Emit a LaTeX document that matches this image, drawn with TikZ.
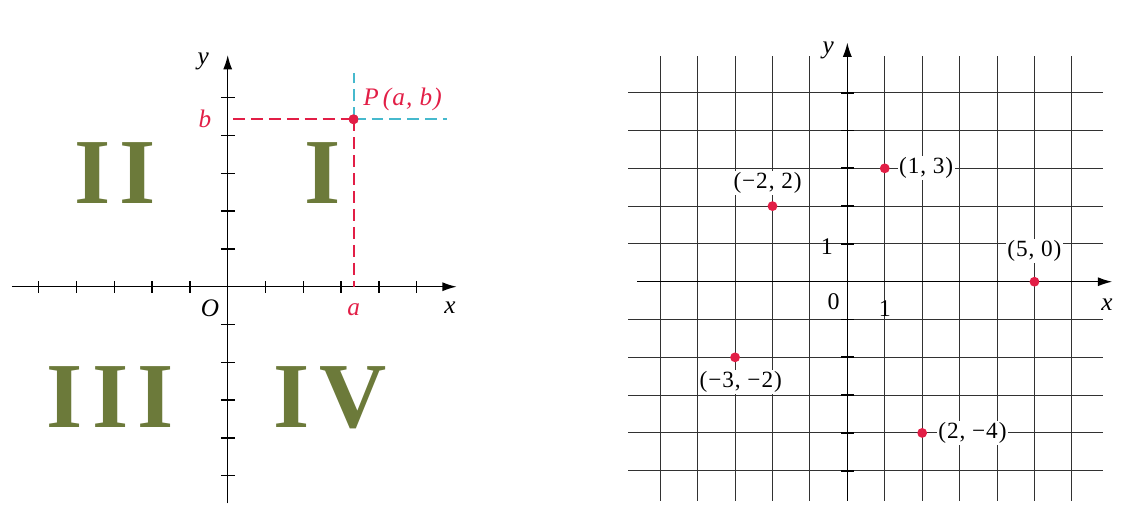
\documentclass[tikz,border=0pt]{standalone}
\usepackage{fontspec}
\setmainfont{Liberation Serif}
\newfontfamily\labelfont[LetterSpace=4]{Liberation Serif}
\newfontfamily\quadfont[LetterSpace=10]{Liberation Serif}
\usetikzlibrary{arrows.meta,positioning}
\definecolor{quadgreen}{RGB}{108,122,58}
\definecolor{ptred}{RGB}{226,30,70}
\definecolor{dashcyan}{RGB}{70,185,205}
\definecolor{gridgray}{RGB}{50,50,50}
\tikzset{
  axisline/.style={line width=1.1pt, draw=black, -{Latex[length=3.8mm,width=2.4mm]}},
  gridline/.style={line width=0.75pt, draw=gridgray},
  tickmark/.style={line width=1pt, draw=black},
  ptdot/.style={circle, fill=ptred, inner sep=0pt, minimum size=2.6mm},
  quadnum/.style={text=quadgreen, inner sep=0pt, font=\quadfont\bfseries\fontsize{70}{70}\selectfont},
  axislabel/.style={inner sep=1pt, font=\labelfont\itshape\fontsize{19}{19}\selectfont},
  numlabel/.style={inner sep=1pt, font=\labelfont\fontsize{18}{18}\selectfont},
  ptlabel/.style={fill=white, inner sep=1pt, font=\labelfont\fontsize{17.5}{17.5}\selectfont},
  reddash/.style={draw=ptred, line width=1.5pt, dash pattern=on 9pt off 4.5pt},
  cyandash/.style={draw=dashcyan, line width=1.5pt, dash pattern=on 9pt off 4.5pt},
}
\begin{document}
\begin{tikzpicture}
  \useasboundingbox (-6.024,-5.854) rectangle (23.870,7.585);
  % quadrants
  \coordinate (O) at (0,0);
  \coordinate (lxa) at (-5.71,0);
  \coordinate (lxb) at (6.06,0);
  \coordinate (lya) at (0,-5.73);
  \coordinate (lyb) at (0,6.13);
  \node[quadnum] (q2) at (-2.98,3.02) {II};
  \node[quadnum] (q1) at (2.51,3.02) {I};
  \node[quadnum] (q3) at (-3.11,-2.93) {III};
  \node[quadnum] (q4) at (2.71,-2.93) {IV};
  \draw[axisline] (lxa) -- (lxb);
  \draw[axisline] (lya) -- (lyb);
  \foreach \i in {-5,...,-1,1,2,...,5} {
    \draw[tickmark] (\i,-0.16) -- (\i,0.16);
    \draw[tickmark] (-0.18,\i) -- (0.18,\i);
  }
  \node[ptdot] (P) at (3.33,4.43) {};
  \coordinate (Pa) at (3.33,0);
  \coordinate (Pb) at (0.14,4.43);
  \coordinate (Pup) at (3.33,5.65);
  \coordinate (Pright) at (5.79,4.43);
  \draw[cyandash] (P.center) -- (Pup);
  \draw[cyandash] (P.center) -- (Pright);
  \draw[reddash] (Pb) -- (P.center);
  \draw[reddash] (P.center) -- (Pa);
  \fill[ptred] (P) circle (1.3mm);
  \node[axislabel, text=ptred, above right=0.08cm and 0.12cm of P] (Plab) {P\,(a, b)};
  \node[axislabel, text=ptred] (blab) at (-0.60,4.43) {b};
  \node[axislabel, text=ptred] (alab) at (3.33,-0.62) {a};
  \node[axislabel] (Olab) at (-0.47,-0.56) {O};
  \node[axislabel] (xlab) at (5.88,-0.56) {x};
  \node[axislabel] (ylab) at (-0.65,5.95) {y};

  % plotted points
  \begin{scope}[shift={(16.392,0.132)}, xscale=0.99]
    \foreach \i in {-5,...,-1,1,2,...,6}
      \draw[gridline] (\i,-5.80) -- (\i,5.98);
    \foreach \j in {-5,...,-1,1,2,...,5}
      \draw[gridline] (-5.86,\j) -- (6.84,\j);
    \coordinate (rxa) at (-5.62,0);
    \coordinate (rxb) at (7.08,0);
    \coordinate (rya) at (0,-5.80);
    \coordinate (ryb) at (0,6.33);
    \draw[axisline] (rxa) -- (rxb);
    \draw[axisline] (rya) -- (ryb);
    \foreach \j in {-5,...,-1,1,2,...,5}
      \draw[tickmark, line width=1.4pt] (-0.17,\j) -- (0.17,\j);
    \node[axislabel] (rylab) at (-0.51,6.11) {y};
    \node[axislabel] (rxlab) at (6.94,-0.61) {x};
    \node[numlabel] (zero) at (-0.37,-0.53) {0};
    \node[numlabel] (onex) at (1.0,-0.72) {1};
    \node[numlabel] (oney) at (-0.55,0.94) {1};
    \node[ptdot] (p13) at (1,3) {};
    \node[ptdot] (p22) at (-2,2) {};
    \node[ptdot] (p50) at (5,0) {};
    \node[ptdot] (p32) at (-3,-2) {};
    \node[ptdot] (p24) at (2,-4) {};
    \node[ptlabel, right=0.2cm of p13] (l13) {(1, 3)};
    \node[ptlabel, above=0.15cm of p22, xshift=-0.13cm] (l22) {(−2, 2)};
    \node[ptlabel, above=0.35cm of p50] (l50) {(5, 0)};
    \node[ptlabel, below=0.2cm of p32, xshift=0.15cm] (l32) {(−3, −2)};
    \node[ptlabel, right=0.25cm of p24] (l24) {(2, −4)};
  \end{scope}
\end{tikzpicture}
\end{document}
